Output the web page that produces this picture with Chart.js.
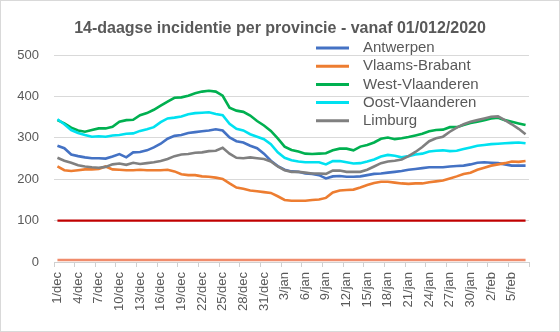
<!DOCTYPE html>
<html>
<head>
<meta charset="utf-8">
<style>
  html, body { margin: 0; padding: 0; background: #fff; }
  #wrap { width: 560px; height: 332px; }
</style>
<script src="https://cdn.jsdelivr.net/npm/chart.js@4/dist/chart.umd.min.js"></script>
</head>
<body>
<div id="wrap"><canvas id="incidenceChart" width="560" height="332"></canvas></div>
<script>
// categorieen: dagen vanaf 1 december
const days = [
  '1/dec','2/dec','3/dec','4/dec','5/dec','6/dec','7/dec','8/dec','9/dec','10/dec',
  '11/dec','12/dec','13/dec','14/dec','15/dec','16/dec','17/dec','18/dec','19/dec','20/dec',
  '21/dec','22/dec','23/dec','24/dec','25/dec','26/dec','27/dec','28/dec','29/dec','30/dec',
  '31/dec','1/jan','2/jan','3/jan','4/jan','5/jan','6/jan','7/jan','8/jan','9/jan',
  '10/jan','11/jan','12/jan','13/jan','14/jan','15/jan','16/jan','17/jan','18/jan','19/jan',
  '20/jan','21/jan','22/jan','23/jan','24/jan','25/jan','26/jan','27/jan','28/jan','29/jan',
  '30/jan','31/jan','1/feb','2/feb','3/feb','4/feb','5/feb','6/feb','7/feb'
];

const provinces = ['Antwerpen', 'Vlaams-Brabant', 'West-Vlaanderen', 'Oost-Vlaanderen', 'Limburg'];

const antwerpen = [281,275,260,256,253,251,251,250,255,261, 253,265,266,270,277,286,298,305,307,312,
  314,316,318,321,318,301,292,289,281,275, 262,245,232,223,219,218,214,213,210,202,
  207,208,206,206,207,210,213,214,216,218, 220,223,225,227,229,229,229,231,232,233,
  236,240,241,240,239,236,233,233,233];

const vlaamsBrabant = [231,222,220,222,224,224,225,231,224,223, 222,222,223,222,222,222,223,219,212,210,
  210,207,206,204,201,190,180,177,173,171, 169,167,159,150,148,148,148,150,151,155,
  168,173,174,175,180,186,191,194,194,192, 190,189,190,190,193,195,197,202,207,213,
  216,223,228,233,236,239,243,242,244];

const westVlaanderen = [343,335,325,318,315,319,323,323,327,339, 343,344,355,360,368,378,388,397,398,402,
  408,412,414,412,402,373,366,363,354,341, 330,317,299,279,271,267,262,261,262,263,
  270,274,274,270,279,283,289,298,301,297, 299,302,306,310,316,319,320,326,326,331,
  336,339,343,347,349,343,339,335,331];

const oostVlaanderen = [345,333,319,312,307,303,304,303,306,307, 310,311,317,321,326,338,347,349,352,357,
  360,361,362,358,355,334,322,318,309,303, 297,285,265,252,246,243,241,241,241,236,
  244,244,241,238,239,243,248,255,259,257, 253,256,260,262,267,269,270,268,269,273,
  277,281,283,285,286,287,288,289,287];

const limburg = [252,245,240,234,231,229,228,230,236,238, 235,240,237,239,241,244,249,256,260,261,
  264,265,268,269,276,262,252,251,253,251, 249,243,231,222,218,218,216,214,214,213,
  221,221,218,218,218,223,231,239,243,245, 248,256,266,278,292,299,303,315,325,333,
  339,343,347,351,352,343,333,322,309];

// horizontale referentielijnen (alarmdrempel en bodemlijn)
const referenceLevels = [100, 5];

const yTicks = [0, 100, 200, 300, 400, 500];

(function(){
  'use strict';

  const seriesColors = ['#4472C4', '#ED7D31', '#00B050', '#00E1F0', '#808080'];
  const referenceColors = ['#C00000', '#F08C6C'];
  const textColor = '#595959';
  const fontFamily = '"Liberation Sans", Arial, sans-serif';

  const seriesData = [antwerpen, vlaamsBrabant, westVlaanderen, oostVlaanderen, limburg];

  const datasets = provinces.map((name, i) => ({
    label: name,
    data: seriesData[i],
    borderColor: seriesColors[i],
    backgroundColor: seriesColors[i],
    borderWidth: 2.6,
    pointRadius: 0,
    tension: 0,
    order: provinces.length - i // Limburg bovenaan, zoals in Excel
  }));

  referenceLevels.forEach((level, i) => {
    datasets.push({
      label: 'ref' + level,
      data: [{ x: days[0], y: level }, { x: days[days.length - 1], y: level }],
      borderColor: referenceColors[i],
      borderWidth: 2.4,
      pointRadius: 0,
      order: 10 + i
    });
  });

  // legende binnen het grafiekvlak, rechtsboven
  const insideLegend = {
    id: 'insideLegend',
    afterDraw(chart) {
      const ctx = chart.ctx;
      ctx.save();
      ctx.font = '15px ' + fontFamily;
      ctx.textBaseline = 'middle';
      ctx.textAlign = 'left';
      provinces.forEach((name, i) => {
        const y = 48 + i * 18.2;
        ctx.strokeStyle = seriesColors[i];
        ctx.lineWidth = 3;
        ctx.beginPath();
        ctx.moveTo(316, y);
        ctx.lineTo(349, y);
        ctx.stroke();
        ctx.fillStyle = textColor;
        ctx.fillText(name, 363, y);
      });
      ctx.restore();
    }
  };

  // witte achtergrond + kader rond de grafiek
  const frame = {
    id: 'frame',
    beforeDraw(chart) {
      const ctx = chart.ctx;
      ctx.save();
      ctx.fillStyle = '#fff';
      ctx.fillRect(0, 0, chart.width, chart.height);
      ctx.restore();
    },
    afterDraw(chart) {
      const ctx = chart.ctx;
      ctx.save();
      ctx.strokeStyle = '#D9D9D9';
      ctx.lineWidth = 1;
      ctx.strokeRect(0.5, 0.5, chart.width - 1, chart.height - 1);
      ctx.restore();
    }
  };

  const el = document.getElementById('incidenceChart');
  if (!el || typeof Chart === 'undefined') return;

  new Chart(el.getContext('2d'), {
    type: 'line',
    data: { labels: days, datasets: datasets },
    plugins: [frame, insideLegend],
    options: {
      responsive: false,
      animation: false,
      devicePixelRatio: 1,
      layout: { padding: 0 },
      font: { family: fontFamily },
      plugins: {
        legend: { display: false },
        tooltip: { enabled: false },
        title: {
          display: true,
          text: '14-daagse incidentie per provincie - vanaf 01/012/2020',
          color: textColor,
          font: { family: fontFamily, size: 16, weight: 'bold' },
          padding: { top: 19, bottom: 17 }
        }
      },
      scales: {
        x: {
          type: 'category',
          offset: true,
          grid: {
            offset: true,
            drawOnChartArea: false,
            drawTicks: true,
            tickLength: 5,
            tickColor: (c) => (c.index === undefined || c.index % 3 === 0) ? '#D0D0D0' : 'rgba(0,0,0,0)'
          },
          border: { display: true, color: '#D0D0D0', width: 1 },
          ticks: {
            autoSkip: false,
            maxRotation: 90,
            minRotation: 90,
            padding: 5,
            color: textColor,
            font: { family: fontFamily, size: 13 },
            callback: (value, index) => index % 3 === 0 ? days[index] : ''
          },
          afterFit: (scale) => { scale.height = 70; }
        },
        y: {
          min: yTicks[0],
          max: yTicks[yTicks.length - 1],
          grid: { color: '#D9D9D9', lineWidth: 1, drawTicks: false },
          border: { display: false },
          afterBuildTicks: (scale) => { scale.ticks = yTicks.map(v => ({ value: v })); },
          ticks: {
            padding: 15,
            color: textColor,
            font: { family: fontFamily, size: 13 }
          },
          afterFit: (scale) => { scale.width = 54; }
        },
        // lege as rechts: houdt ruimte vrij naast het grafiekvlak
        yRight: {
          position: 'right',
          display: true,
          min: 0,
          max: 500,
          grid: { display: false, drawTicks: false },
          border: { display: false },
          ticks: { display: false },
          afterFit: (scale) => { scale.width = 31; }
        }
      }
    }
  });
})();
</script>
</body>
</html>
